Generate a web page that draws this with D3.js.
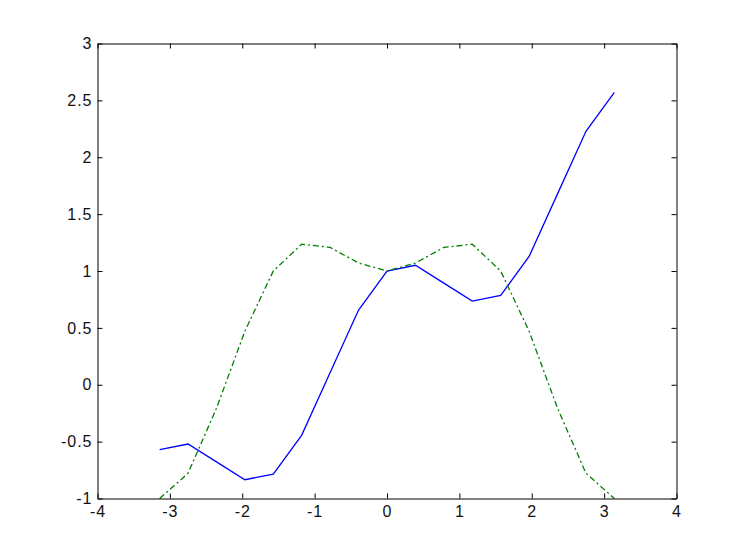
<!DOCTYPE html>
<html>
<head>
<meta charset="utf-8">
<script src="https://cdn.jsdelivr.net/npm/d3@7"></script>
<style>
  html, body { margin: 0; padding: 0; background: #fff; }
  svg { display: block; }
</style>
</head>
<body>
<svg id="chart" width="747" height="560"></svg>
<script>
// x samples: -pi .. pi in steps of pi/8
const xValues = [-3.1416, -2.7489, -2.3562, -1.9635, -1.5708, -1.1781, -0.7854, -0.3927, 0,
                 0.3927, 0.7854, 1.1781, 1.5708, 1.9635, 2.3562, 2.7489, 3.1416];
const blueValues = [-0.571, -0.521, -0.678, -0.835, -0.785, -0.443, 0.107, 0.657, 1.000,
                    1.050, 0.893, 0.735, 0.785, 1.128, 1.678, 2.228, 2.571];
const greenValues = [-1.000, -0.778, -0.207, 0.471, 1.000, 1.236, 1.207, 1.070, 1.000,
                     1.070, 1.207, 1.236, 1.000, 0.471, -0.207, -0.778, -1.000];
const xTicks = [-4, -3, -2, -1, 0, 1, 2, 3, 4];
const yTicks = [-1, -0.5, 0, 0.5, 1, 1.5, 2, 2.5, 3];

const L = 97, R = 676, T = 43, B = 498;
const svg = d3.select("#chart");
const x = d3.scaleLinear().domain([-4, 4]).range([L, R]);
const y = d3.scaleLinear().domain([-1, 3]).range([B, T]);

const g = svg.append("g").attr("transform", "translate(0.5,0.5)");

svg.append("clipPath").attr("id", "clip").append("rect")
  .attr("x", L).attr("y", T).attr("width", R - L + 1).attr("height", B - T + 1);

const line = d3.line().x(d => x(d[0])).y(d => y(d[1]));
const data = g.append("g").attr("clip-path", "url(#clip)");
data.append("path")
  .datum(xValues.map((v, i) => [v, blueValues[i]]))
  .attr("d", line).attr("fill", "none").attr("stroke", "#0000ff").attr("stroke-width", 1.3);
data.append("path")
  .datum(xValues.map((v, i) => [v, greenValues[i]]))
  .attr("d", line).attr("fill", "none").attr("stroke", "#007f00").attr("stroke-width", 1.3)
  .attr("stroke-dasharray", "6,3,2,3");

const fmt = d => String(d);
const xb = g.append("g").attr("transform", `translate(0,${B})`)
  .call(d3.axisBottom(x).tickValues(xTicks).tickFormat(fmt).tickSizeInner(-5).tickSizeOuter(0).tickPadding(7));
const xt = g.append("g").attr("transform", `translate(0,${T})`)
  .call(d3.axisTop(x).tickValues(xTicks).tickFormat("").tickSizeInner(-5).tickSizeOuter(0));
const yl = g.append("g").attr("transform", `translate(${L},0)`)
  .call(d3.axisLeft(y).tickValues(yTicks).tickFormat(fmt).tickSizeInner(-5).tickSizeOuter(0).tickPadding(5));
const yr = g.append("g").attr("transform", `translate(${R},0)`)
  .call(d3.axisRight(y).tickValues(yTicks).tickFormat("").tickSizeInner(-5).tickSizeOuter(0));

[xb, xt, yl, yr].forEach(a => {
  a.attr("font-family", "'Liberation Sans', Arial, sans-serif").attr("font-size", 16);
  a.select(".domain").attr("stroke", "#000").attr("stroke-width", 1);
  a.selectAll(".tick line").attr("stroke", "#000").attr("stroke-width", 1);
  a.selectAll(".tick text").attr("fill", "#111").style("letter-spacing", "1px");
});
</script>
</body>
</html>
